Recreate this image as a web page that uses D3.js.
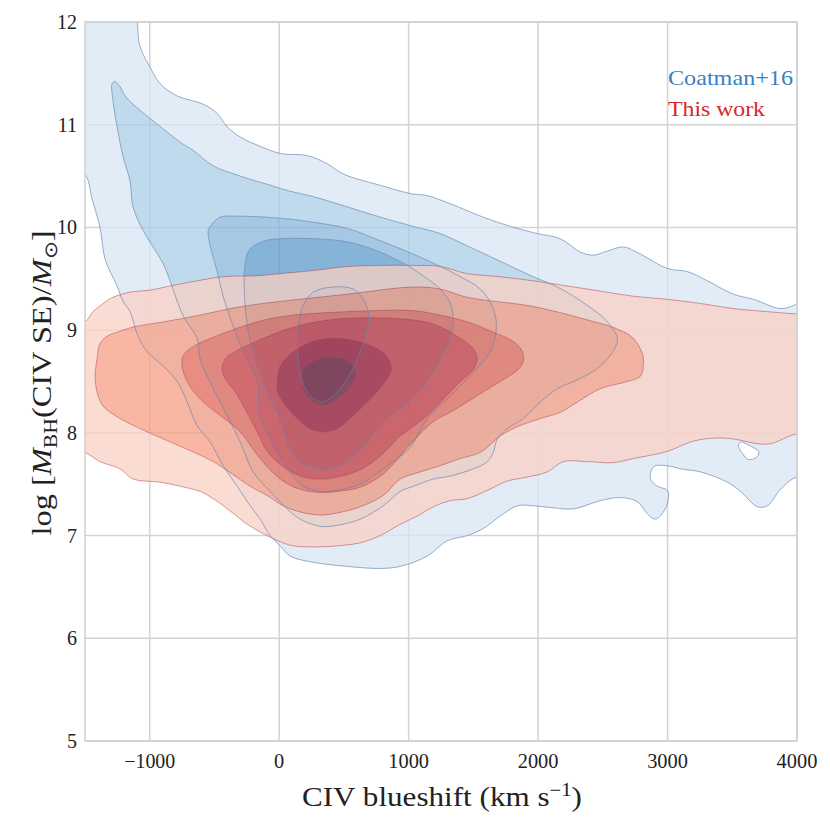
<!DOCTYPE html>
<html><head><meta charset="utf-8">
<script src="https://cdn.jsdelivr.net/npm/d3@7"></script>
<style>
body{margin:0;background:#fff;}
</style></head>
<body>
<svg id="chart" width="830" height="830" font-family="'Liberation Serif', 'Times New Roman', serif"></svg>
<script>
// ---------------- data ----------------
const xTicks = [-1000, 0, 1000, 2000, 3000, 4000];
const yTicks = [5, 6, 7, 8, 9, 10, 11, 12];
const xDomain = [-1500, 4000];
const yDomain = [5, 12];
const legendLabels = ["Coatman+16", "This work"];

// Coatman+16 density contours (outer -> inner), [blueshift km/s, log M]
const coatman1 = [[-1700,12.4],[-1170,12.4],[-1074,11.76],[-997,11.56],[-920,11.40],[-788,11.28],[-587,11.20],[-479,11.11],[-402,10.98],[-301,10.88],[-147,10.79],[8,10.72],[216,10.70],[371,10.62],[495,10.52],[781,10.41],[1013,10.33],[1144,10.31],[1322,10.23],[1577,10.10],[1786,10.01],[1994,9.94],[2172,9.89],[2327,9.76],[2427,9.73],[2535,9.77],[2659,9.81],[2791,9.74],[2999,9.60],[3154,9.57],[3308,9.48],[3509,9.35],[3664,9.30],[3873,9.21],[3973,9.24],[4004,9.26],[4300,9.3],[4300,7.5],[4004,7.57],[3873,7.45],[3772,7.29],[3695,7.28],[3564,7.43],[3463,7.52],[3254,7.62],[3100,7.65],[2999,7.68],[2891,7.67],[2868,7.55],[2922,7.48],[2999,7.44],[3007,7.36],[2968,7.23],[2906,7.16],[2845,7.21],[2767,7.33],[2636,7.37],[2481,7.34],[2273,7.26],[2118,7.27],[1963,7.29],[1840,7.29],[1708,7.19],[1577,7.07],[1453,7.00],[1299,6.95],[1144,6.80],[935,6.70],[781,6.68],[526,6.70],[263,6.74],[85,6.80],[8,6.90],[-70,7.00],[-147,7.16],[-224,7.29],[-325,7.48],[-433,7.68],[-533,7.91],[-634,8.07],[-711,8.30],[-788,8.50],[-897,8.65],[-1020,8.79],[-1090,8.94],[-1152,9.18],[-1206,9.28],[-1252,9.43],[-1345,9.69],[-1384,10.0],[-1446,10.28],[-1500,10.52],[-1700,10.7]];
const coatman1Hole = [[3564,7.91],[3641,7.87],[3703,7.82],[3695,7.77],[3625,7.74],[3579,7.80],[3548,7.87]];
const coatman2 = [[-1291,11.40],[-1268,11.42],[-1229,11.37],[-1190,11.28],[-1129,11.20],[-997,11.06],[-866,10.93],[-765,10.83],[-665,10.75],[-510,10.60],[-301,10.50],[-93,10.42],[62,10.36],[263,10.30],[526,10.20],[781,10.10],[1036,10.01],[1244,9.94],[1453,9.82],[1708,9.67],[1963,9.52],[2149,9.42],[2381,9.24],[2536,9.08],[2613,8.92],[2582,8.80],[2481,8.65],[2327,8.53],[2149,8.43],[2018,8.30],[1886,8.14],[1762,8.04],[1685,7.94],[1654,7.81],[1608,7.72],[1500,7.65],[1322,7.58],[1190,7.55],[1036,7.48],[935,7.43],[804,7.29],[626,7.16],[448,7.10],[317,7.09],[162,7.16],[62,7.26],[-70,7.43],[-201,7.62],[-301,7.91],[-402,8.17],[-510,8.43],[-611,8.72],[-634,8.92],[-742,9.14],[-843,9.48],[-897,9.65],[-974,9.81],[-1051,9.97],[-1129,10.20],[-1152,10.45],[-1206,10.69],[-1252,10.98],[-1283,11.23]];
const coatman3 = [[-533,10.01],[-456,10.10],[-356,10.11],[8,10.09],[263,10.05],[526,9.99],[781,9.87],[1036,9.74],[1244,9.62],[1399,9.52],[1554,9.40],[1654,9.21],[1677,9.01],[1631,8.79],[1500,8.59],[1322,8.36],[1144,8.14],[1013,7.86],[804,7.65],[626,7.50],[448,7.44],[317,7.43],[185,7.48],[85,7.62],[-15,7.81],[-93,8.01],[-147,8.14],[-170,8.50],[-278,8.79],[-356,9.04],[-433,9.33],[-479,9.57],[-533,9.82],[-549,9.96]];
const coatman4 = [[8,9.89],[263,9.89],[526,9.86],[781,9.76],[989,9.63],[1144,9.50],[1244,9.40],[1322,9.26],[1345,9.09],[1322,8.92],[1244,8.72],[1129,8.48],[974,8.28],[804,8.10],[626,7.84],[471,7.68],[317,7.65],[162,7.72],[85,7.84],[8,8.14],[-70,8.33],[-147,8.59],[-224,8.89],[-263,9.24],[-263,9.65],[-224,9.79],[-108,9.87]];
const coatman5 = [[417,9.42],[572,9.40],[649,9.30],[688,9.18],[680,9.01],[626,8.79],[526,8.53],[417,8.36],[332,8.30],[240,8.36],[178,8.50],[147,8.72],[147,9.01],[185,9.24],[263,9.37]];

// This work density contours (outer -> inner)
const thisWork1 = [[-1700,9.0],[-1500,9.08],[-1438,9.18],[-1360,9.26],[-1283,9.32],[-1152,9.37],[-997,9.39],[-843,9.43],[-634,9.48],[-433,9.52],[-170,9.53],[8,9.55],[263,9.58],[526,9.62],[781,9.63],[1036,9.63],[1244,9.62],[1453,9.55],[1708,9.52],[1963,9.48],[2226,9.43],[2481,9.38],[2736,9.33],[2999,9.30],[3254,9.26],[3509,9.21],[3772,9.18],[3973,9.16],[4300,9.14],[4300,7.97],[4004,7.99],[3772,7.89],[3509,7.94],[3386,7.95],[3200,7.92],[2999,7.82],[2736,7.75],[2582,7.71],[2381,7.72],[2195,7.72],[2072,7.62],[1917,7.57],[1762,7.53],[1608,7.44],[1453,7.36],[1322,7.34],[1190,7.28],[1067,7.19],[935,7.11],[781,7.00],[626,6.93],[450,6.90],[294,6.89],[108,6.90],[8,6.94],[-124,7.02],[-247,7.11],[-379,7.24],[-510,7.36],[-611,7.43],[-765,7.48],[-920,7.52],[-1129,7.55],[-1229,7.65],[-1384,7.72],[-1500,7.81],[-1700,7.9]];
const thisWork2 = [[-1422,8.55],[-1407,8.72],[-1384,8.87],[-1330,8.94],[-1229,8.99],[-1129,9.03],[-897,9.08],[-634,9.14],[-379,9.21],[-124,9.26],[8,9.28],[526,9.35],[1036,9.42],[1244,9.40],[1453,9.32],[1963,9.23],[2350,9.11],[2613,9.01],[2736,8.92],[2806,8.77],[2814,8.69],[2790,8.55],[2690,8.50],[2481,8.43],[2304,8.30],[2172,8.20],[2018,8.14],[1840,8.06],[1708,7.97],[1554,7.81],[1399,7.75],[1244,7.68],[1090,7.62],[935,7.55],[804,7.39],[626,7.28],[448,7.22],[317,7.20],[162,7.23],[31,7.29],[-93,7.39],[-224,7.48],[-510,7.72],[-765,7.87],[-1020,8.01],[-1229,8.14],[-1360,8.26],[-1407,8.40]];
const thisWork3 = [[-750,8.65],[-742,8.75],[-665,8.84],[-510,8.93],[-224,9.06],[8,9.13],[526,9.18],[1036,9.19],[1190,9.16],[1453,9.08],[1654,8.98],[1809,8.89],[1879,8.79],[1886,8.70],[1848,8.62],[1708,8.50],[1577,8.40],[1453,8.30],[1322,8.20],[1190,8.11],[1013,7.89],[804,7.60],[626,7.47],[448,7.43],[317,7.42],[162,7.45],[31,7.53],[-93,7.67],[-201,7.84],[-301,8.01],[-456,8.17],[-611,8.33],[-711,8.50]];
const thisWork4 = [[-441,8.62],[-417,8.72],[-340,8.79],[-124,8.92],[139,9.04],[471,9.11],[935,9.11],[1190,9.06],[1376,8.94],[1500,8.82],[1531,8.72],[1500,8.62],[1399,8.50],[1268,8.33],[1144,8.17],[1013,8.04],[935,7.97],[804,7.80],[626,7.64],[448,7.57],[317,7.55],[185,7.57],[31,7.67],[-93,7.82],[-170,8.01],[-263,8.23],[-340,8.40],[-410,8.51]];
const thisWork5 = [[-15,8.50],[8,8.65],[108,8.79],[263,8.89],[394,8.92],[572,8.90],[727,8.84],[835,8.74],[866,8.62],[835,8.53],[727,8.36],[572,8.17],[448,8.04],[340,8.01],[240,8.04],[139,8.14],[31,8.30],[-15,8.41]];
const thisWork6 = [[178,8.50],[185,8.62],[263,8.70],[417,8.74],[526,8.70],[587,8.62],[587,8.53],[526,8.41],[417,8.30],[340,8.27],[255,8.31],[193,8.40]];

const blueColors = ["#d7e5f3", "#a8cee5", "#88b6db", "#5c9bcb", "#3a7cbd"];
const redColors  = ["#f8d0c3", "#f79f84", "#eb6d5c", "#d64547", "#b22839", "#862b3a"];
const legendColors = ["#3b80c0", "#d42a2a"];

// ---------------- drawing ----------------
const m = {left: 85, right: 797, top: 22, bottom: 741};
const svg = d3.select("#chart");
const x = d3.scaleLinear().domain(xDomain).range([m.left, m.right]);
const y = d3.scaleLinear().domain(yDomain).range([m.bottom, m.top]);

svg.append("defs").append("clipPath").attr("id","plotclip")
  .append("rect").attr("x", m.left).attr("y", m.top)
  .attr("width", m.right - m.left).attr("height", m.bottom - m.top);

// grid
const grid = svg.append("g");
grid.selectAll(".vx").data(xTicks).join("line")
  .attr("x1", d => x(d)).attr("x2", d => x(d))
  .attr("y1", m.top).attr("y2", m.bottom)
  .attr("stroke", "#d4d4d4").attr("stroke-width", 1.5);
grid.selectAll(".hy").data(yTicks).join("line")
  .attr("y1", d => y(d)).attr("y2", d => y(d))
  .attr("x1", m.left).attr("x2", m.right)
  .attr("stroke", "#d4d4d4").attr("stroke-width", 1.5);

const line = d3.line().x(d => x(d[0])).y(d => y(d[1])).curve(d3.curveCatmullRomClosed.alpha(0.5));
const plot = svg.append("g").attr("clip-path", "url(#plotclip)");

const blueLevels = [coatman1, coatman2, coatman3, coatman4, coatman5];
const redLevels = [thisWork1, thisWork2, thisWork3, thisWork4, thisWork5, thisWork6];

function drawBands(levels, colors, opacity, extra) {
  levels.forEach((poly, i) => {
    let p = line(poly);
    if (i === 0 && extra) p += line(extra);
    if (i + 1 < levels.length) p += line(levels[i + 1]);
    plot.append("path").attr("d", p)
      .attr("fill", colors[i]).attr("fill-opacity", opacity)
      .attr("fill-rule", "evenodd").attr("stroke", "none");
  });
}
function drawLines(levels, color, op, extra) {
  levels.forEach((poly, i) => {
    let p = line(poly);
    if (i === 0 && extra) p += line(extra);
    plot.append("path").attr("d", p).attr("fill", "none")
      .attr("stroke", color).attr("stroke-width", 0.9).attr("stroke-opacity", op);
  });
}

drawBands(blueLevels, blueColors, 0.75, coatman1Hole);
drawBands(redLevels, redColors, 0.75, null);
drawLines(redLevels, "#b03a44", 0.55, null);
drawLines(blueLevels, "#5f7fae", 0.7, coatman1Hole);

// frame
svg.append("rect").attr("x", m.left).attr("y", m.top)
  .attr("width", m.right - m.left).attr("height", m.bottom - m.top)
  .attr("fill", "none").attr("stroke", "#d0d0d0").attr("stroke-width", 1.5);

// tick labels
svg.append("g").selectAll("text").data(xTicks).join("text")
  .attr("x", d => x(d)).attr("y", 768).attr("text-anchor", "middle")
  .attr("font-size", 20).attr("fill", "#222")
  .attr("textLength", d => d < 0 ? 51 : (String(d).length * 10.2))
  .attr("lengthAdjust", "spacingAndGlyphs")
  .text(d => d < 0 ? "\u2212" + Math.abs(d) : d);
svg.append("g").selectAll("text").data(yTicks).join("text")
  .attr("x", 77).attr("y", d => y(d) + 7).attr("text-anchor", "end")
  .attr("font-size", 20).attr("fill", "#222")
  .text(d => d);

// x label
const xl = svg.append("text").attr("x", 442).attr("y", 806).attr("text-anchor", "middle")
  .attr("font-size", 27).attr("fill", "#222")
  .attr("textLength", 280).attr("lengthAdjust", "spacingAndGlyphs");
xl.append("tspan").text("CIV blueshift (km s");
xl.append("tspan").attr("dy", -10).attr("font-size", 18).text("\u22121");
xl.append("tspan").attr("dy", 10).text(")");

// y label
const yl = svg.append("text").attr("transform", "translate(51,383) rotate(-90)")
  .attr("text-anchor", "middle").attr("font-size", 27).attr("fill", "#222")
  .attr("textLength", 305).attr("lengthAdjust", "spacingAndGlyphs");
yl.append("tspan").text("log [");
yl.append("tspan").attr("font-style", "italic").text("M");
yl.append("tspan").attr("dy", 6).attr("font-size", 18).text("BH");
yl.append("tspan").attr("dy", -6).text("(CIV SE)/");
yl.append("tspan").attr("font-style", "italic").text("M");
yl.append("tspan").attr("dy", 6).attr("font-size", 18).text("\u2299");
yl.append("tspan").attr("dy", -6).text("]");

// legend labels
const legendWidths = [125, 97];
svg.append("g").selectAll("text").data(legendLabels).join("text")
  .attr("x", 668).attr("y", (d, i) => 85 + i * 31)
  .attr("font-size", 22).attr("fill", (d, i) => legendColors[i])
  .attr("textLength", (d, i) => legendWidths[i]).attr("lengthAdjust", "spacingAndGlyphs")
  .text(d => d);
</script>
</body></html>
